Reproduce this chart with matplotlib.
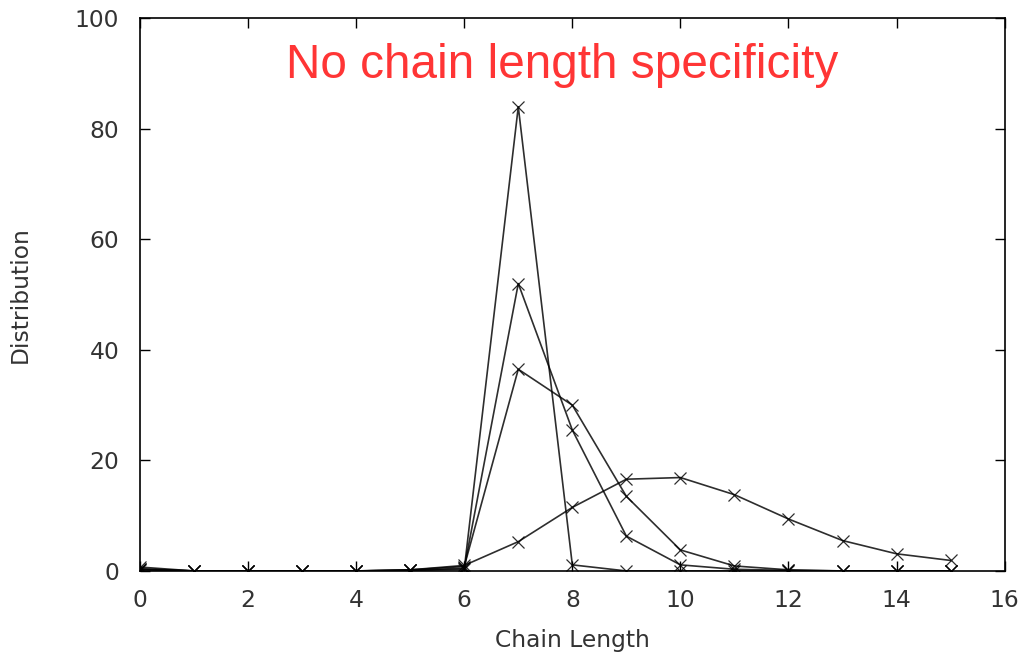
import matplotlib
matplotlib.use("Agg")
import matplotlib.pyplot as plt

# chain length distributions
chain_len = list(range(16))
sharp  = [0.2, 0, 0, 0, 0, 0.1, 0.3, 84.0, 1.1, 0, 0, 0, 0, 0, 0, 0]
mid    = [0.3, 0, 0, 0, 0, 0.1, 0.5, 52.0, 25.5, 6.3, 1.1, 0.3, 0.1, 0, 0, 0]
wide   = [0.4, 0, 0, 0, 0, 0.2, 0.8, 36.5, 30.0, 13.5, 3.8, 0.9, 0.2, 0, 0, 0]
broad  = [0.7, 0, 0, 0, 0, 0.2, 1.0, 5.3, 11.5, 16.6, 16.9, 13.8, 9.4, 5.5, 3.1, 1.9]

x_ticks = [0, 2, 4, 6, 8, 10, 12, 14, 16]
y_ticks = [0, 20, 40, 60, 80, 100]

plt.rcParams["font.family"] = ["DejaVu Sans"]

fig = plt.figure(figsize=(10.22, 6.54), dpi=100)
ax = fig.add_axes([0.137, 0.127, 0.846, 0.845])

for series in (sharp, mid, wide, broad):
    ax.plot(chain_len, series, color="black", linewidth=1.2, marker="x",
            markersize=9, markeredgewidth=0.9, alpha=0.82)

ax.set_xlim(0, 16)
ax.set_ylim(0, 100)
ax.set_xticks(x_ticks)
ax.set_yticks(y_ticks)
ax.tick_params(direction="in", top=True, right=True, length=7, width=1,
               labelsize=16.8, colors="black")
ax.tick_params(axis="x", pad=13)
ax.tick_params(axis="y", pad=15)
for lab in ax.get_xticklabels() + ax.get_yticklabels():
    lab.set_color("#333333")
for spine in ax.spines.values():
    spine.set_linewidth(1.2)

ax.set_xlabel("Chain Length", fontsize=16.8, color="#333333", labelpad=12)
ax.set_ylabel("Distribution", fontsize=16.8, color="#333333", labelpad=31)

ax.text(0.488, 0.915, "No chain length specificity", transform=ax.transAxes,
        ha="center", va="center", fontsize=34.4, color="#ff3535",
        family=["Liberation Sans", "DejaVu Sans"])

fig.savefig("out.png", dpi=100, facecolor="white")
plt.close(fig)
